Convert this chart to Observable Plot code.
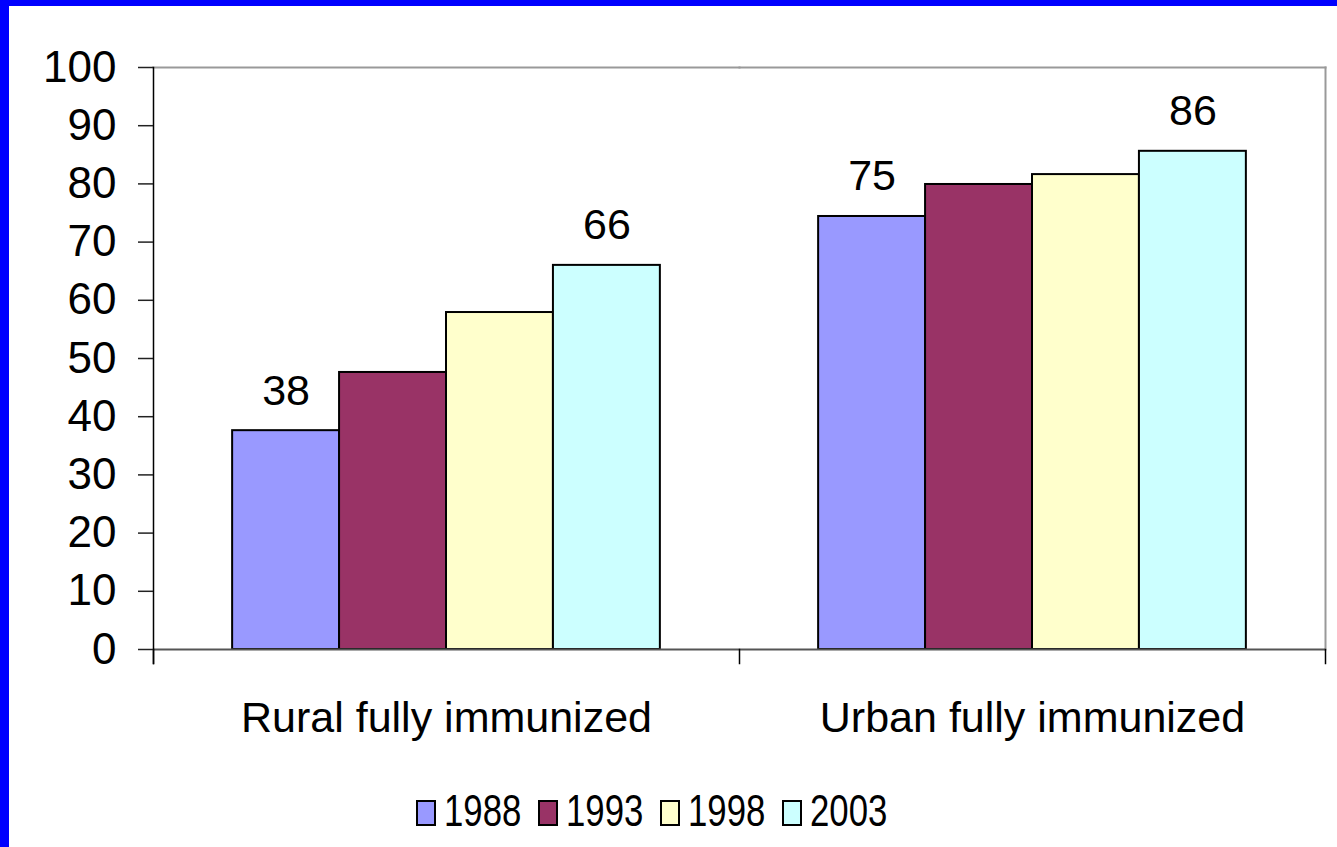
<!DOCTYPE html>
<html>
<head>
<meta charset="utf-8">
<script src="https://cdn.jsdelivr.net/npm/d3@7"></script>
<script src="https://cdn.jsdelivr.net/npm/@observablehq/plot@0.6"></script>
<style>
  html, body { margin: 0; padding: 0; background: #fff; }
  #wrap { position: relative; width: 1337px; height: 847px; overflow: hidden; background: #fff; font-family: "Liberation Sans", Arial, sans-serif; }
  #chart { position: absolute; left: 0; top: 0; }
  .bl { position: absolute; left: 0; top: 0; width: 9px; height: 847px; background: #0000FF; z-index: 5; }
  .bt { position: absolute; left: 0; top: 0; width: 1337px; height: 6px; background: #0000FF; z-index: 5; }
  #legend { position: absolute; left: 416px; top: 789px; display: flex; align-items: baseline; font-size: 44px; line-height: 1; color: #000; }
  #legend .sw { display: inline-block; width: 20px; height: 26px; box-sizing: border-box; border: 2px solid #000; margin-right: 8px; }
  #legend .lab { display: inline-block; width: 94px; white-space: nowrap; transform: scaleX(0.79); transform-origin: left center; }
</style>
</head>
<body>
<div id="wrap">
  <div class="bl"></div>
  <div class="bt"></div>
  <div id="chart"></div>
  <div id="legend"></div>
</div>
<script>
const categories = ["Rural fully immunized", "Urban fully immunized"];
const years = ["1988", "1993", "1998", "2003"];
const ruralValues = [37.6, 47.6, 57.9, 66.0];
const urbanValues = [74.4, 79.9, 81.6, 85.6];
const ruralLabels = ["38", null, null, "66"];
const urbanLabels = ["75", null, null, "86"];
const yTicks = [0, 10, 20, 30, 40, 50, 60, 70, 80, 90, 100];
const colors = ["#9999FF", "#993366", "#FFFFCC", "#CCFFFF"];

const seriesValues = [ruralValues, urbanValues];
const seriesLabels = [ruralLabels, urbanLabels];
const data = categories.flatMap((cat, i) =>
  years.map((year, j) => ({cat, year, value: seriesValues[i][j], label: seriesLabels[i][j]}))
);

const W = 1337, H = 760, mT = 67, mB = 111, mL = 152, mR = 12;
const plotH = H - mT - mB;

const chart = Plot.plot({
  width: W,
  height: H,
  marginTop: mT,
  marginBottom: mB,
  marginLeft: mL,
  marginRight: mR,
  style: {fontFamily: "'Liberation Sans', Arial, sans-serif", background: "transparent", color: "#000", overflow: "visible"},
  fx: {domain: categories, padding: 0, label: null},
  x: {domain: years, paddingInner: 0, paddingOuter: 0.74, round: false, axis: null},
  y: {domain: [0, 100], label: null},
  color: {domain: years, range: colors},
  marks: [
    Plot.frame({anchor: "top", stroke: "#999", strokeWidth: 2}),
    Plot.frame({anchor: "right", stroke: "#999", strokeWidth: 2, fx: () => categories[1]}),
    Plot.barY(data, {fx: "cat", x: "year", y: "value", fill: "year", stroke: "#000", strokeWidth: 2}),
    Plot.ruleY([0], {stroke: "#555", strokeWidth: 2}),
    Plot.frame({anchor: "left", stroke: "#000", strokeWidth: 1.5, insetBottom: -14, fx: () => categories[0]}),
    Plot.frame({anchor: "left", stroke: "#000", strokeWidth: 1.5, insetTop: plotH, insetBottom: -14}),
    Plot.frame({anchor: "right", stroke: "#000", strokeWidth: 1.5, insetTop: plotH, insetBottom: -14, fx: () => categories[1]}),
    Plot.text(data.filter(d => d.label != null), {fx: "cat", x: "year", y: "value", text: "label", lineAnchor: "bottom", dy: -26, fontSize: 43, fill: "#000"}),
    Plot.axisY({ticks: yTicks, tickSize: 15, tickPadding: 22, fontSize: 44, label: null, stroke: "#222", strokeWidth: 1.5, tickFormat: d => String(d)}),
    Plot.axisFx({anchor: "bottom", tickSize: 0, tickPadding: 52, fontSize: 43, label: null})
  ]
});
document.getElementById("chart").appendChild(chart);

const legend = document.getElementById("legend");
years.forEach((y, i) => {
  const item = document.createElement("span");
  item.style.display = "inline-flex";
  item.style.alignItems = "baseline";
  const sw = document.createElement("span");
  sw.className = "sw";
  sw.style.background = colors[i];
  const lab = document.createElement("span");
  lab.className = "lab";
  lab.textContent = y;
  item.appendChild(sw);
  item.appendChild(lab);
  legend.appendChild(item);
});
</script>
</body>
</html>
